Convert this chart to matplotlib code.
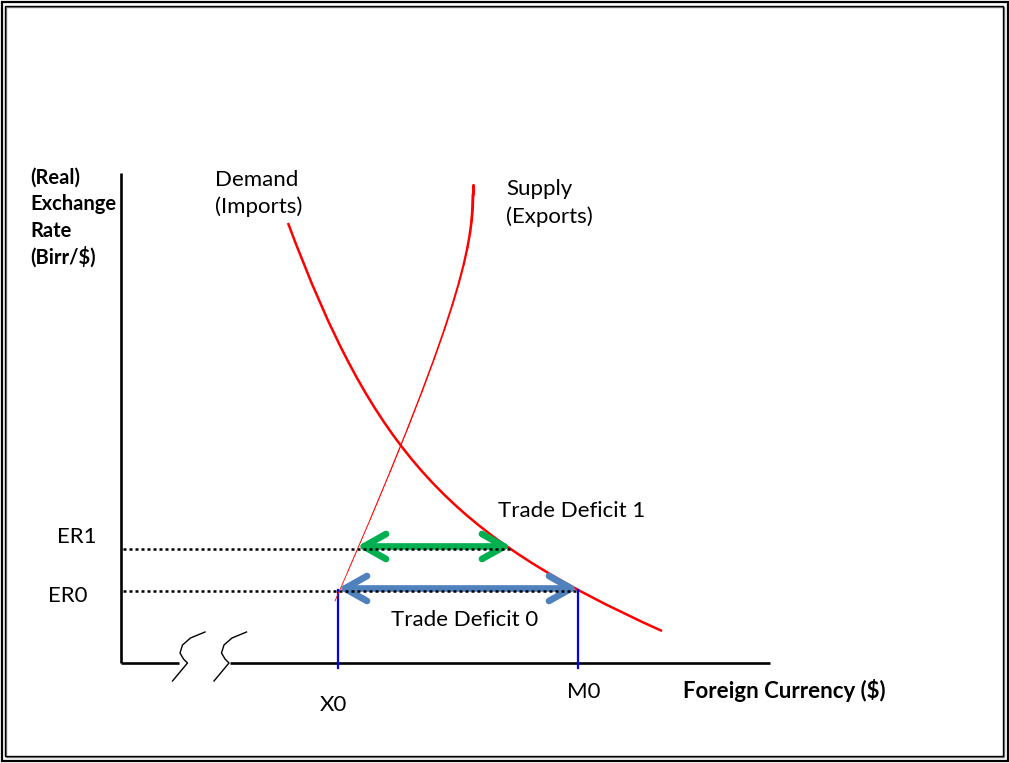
import numpy as np
import matplotlib
matplotlib.use("Agg")
import matplotlib.pyplot as plt
from matplotlib.patches import Rectangle, FancyArrowPatch, PathPatch
from matplotlib.path import Path
from matplotlib.collections import LineCollection

# Datos del diagrama (unidades: x = moneda extranjera, y = tipo de cambio)
# curvas como puntos de control de Bezier cubica (inicio, control, control, fin)
demand_x = [167, 253, 328, 541]
demand_y = [440, 210, 128, 32]
supply_x = [214, 352, 352, 352]
supply_y = [62, 377, 428, 478]

er_labels = ["ER0", "ER1"]
er_levels = [73, 115]
er_ends = [457, 390]          # donde la linea punteada toca la demanda
deficit_from = [217, 236]     # exportaciones (oferta)
deficit_to = [457, 390]       # importaciones (demanda)
deficit_labels = ["Trade Deficit 0", "Trade Deficit 1"]
deficit_colors = ["#4F81BD", "#00B050"]

q_labels = ["X0", "M0"]
q_levels = [217, 457]

y_title = ["(Real)", "Exchange", "Rate", "(Birr/$)"]
x_title = "Foreign Currency ($)"

# forma del corte del eje x
brk_dx = [21.5, 7, -1, -3.5, 0, 4, -11]
brk_dy = [31, 25, 18, 10, 4, 0, -18]
brk_pos = [62.5, 104]

fig = plt.figure(figsize=(10.09, 7.63), dpi=100)
ax = fig.add_axes([0, 0, 1, 1])
ax.set_xlim(-121, 888)
ax.set_ylim(-100, 663)
ax.axis("off")

font = ["Lato", "DejaVu Sans"]
fs = 16

# marco doble
fig.add_artist(Rectangle((1.5 / 1009, 2.5 / 763), 1006 / 1009, 758.5 / 763,
                         transform=fig.transFigure, fill=False, lw=1.6, ec="black"))
fig.add_artist(Rectangle((5.5 / 1009, 6.5 / 763), 998 / 1009, 750 / 763,
                         transform=fig.transFigure, fill=False, lw=1.0, ec="#808080"))
fig.add_artist(Rectangle((4.8 / 1009, 7.3 / 763), 998 / 1009, 750 / 763,
                         transform=fig.transFigure, fill=False, lw=1.0, ec="black"))

# ejes
ax.plot([0, 0], [0, 490], color="black", lw=1.9, solid_capstyle="butt")
ax.plot([0, 58], [0, 0], color="black", lw=1.9, solid_capstyle="butt")
ax.plot([109, 649], [0, 0], color="black", lw=1.9, solid_capstyle="butt")
for bx in brk_pos:
    ax.plot(np.array(brk_dx) + bx, brk_dy, color="black", lw=1.0)

# lineas punteadas y verticales
for lvl, end in zip(er_levels, er_ends):
    ax.plot([2, end], [lvl - 1, lvl - 1], color="black", lw=1.8,
            linestyle=(0, (1.2, 1.2)))
for q in q_levels:
    ax.plot([q, q], [er_levels[0], -5], color="#0000FF", lw=1.6)

# curvas
codes = [Path.MOVETO, Path.CURVE4, Path.CURVE4, Path.CURVE4]
demand = Path(np.column_stack([demand_x, demand_y]), codes)
ax.add_patch(PathPatch(demand, fill=False, ec="#FF0000", lw=1.8, capstyle="butt"))

# la oferta se engrosa hacia arriba: se aplana la curva y se dibuja por tramos
supply = Path(np.column_stack([supply_x, supply_y]), codes)
pts = ax.transData.inverted().transform(
    supply.to_polygons(ax.transData, width=0, height=0, closed_only=False)[0])
segs = np.stack([pts[:-1], pts[1:]], axis=1)
widths = np.linspace(0.6, 2.2, len(segs))
ax.add_collection(LineCollection(segs, colors="#FF0000", linewidths=widths,
                                 capstyle="round"))

# flechas de deficit
for a, b, lvl, c in zip(deficit_from, deficit_to, er_levels, deficit_colors):
    arr = FancyArrowPatch((a, lvl + 1.5), (b, lvl + 1.5),
                          arrowstyle="<->,head_length=16,head_width=9",
                          mutation_scale=1, lw=4.8, color=c,
                          shrinkA=0, shrinkB=0, capstyle="round", joinstyle="round")
    ax.add_patch(arr)

# textos
for i, t in enumerate(y_title):
    ax.text(-91, 479 - i * 26.5, t, fontsize=14.5, fontweight="bold",
            family=font, va="baseline", ha="left")
ax.text(94, 477, "Demand", fontsize=fs, family=font, va="baseline")
ax.text(94, 450, "(Imports)", fontsize=fs, family=font, va="baseline")
ax.text(385, 468, "Supply", fontsize=fs, family=font, va="baseline")
ax.text(385, 440, "(Exports)", fontsize=fs, family=font, va="baseline")
ax.text(377, 146, deficit_labels[1], fontsize=fs, family=font, va="baseline")
ax.text(270, 37, deficit_labels[0], fontsize=fs, family=font, va="baseline")
ax.text(-64, 120, er_labels[1], fontsize=fs, family=font, va="baseline")
ax.text(-73, 61, er_labels[0], fontsize=fs, family=font, va="baseline")
ax.text(199, -48, q_labels[0], fontsize=fs, family=font, va="baseline")
ax.text(446, -35, q_labels[1], fontsize=fs, family=font, va="baseline")
ax.text(562, -35, x_title, fontsize=16, fontweight="bold", family=font,
        va="baseline")

fig.savefig("out.png", dpi=100)
